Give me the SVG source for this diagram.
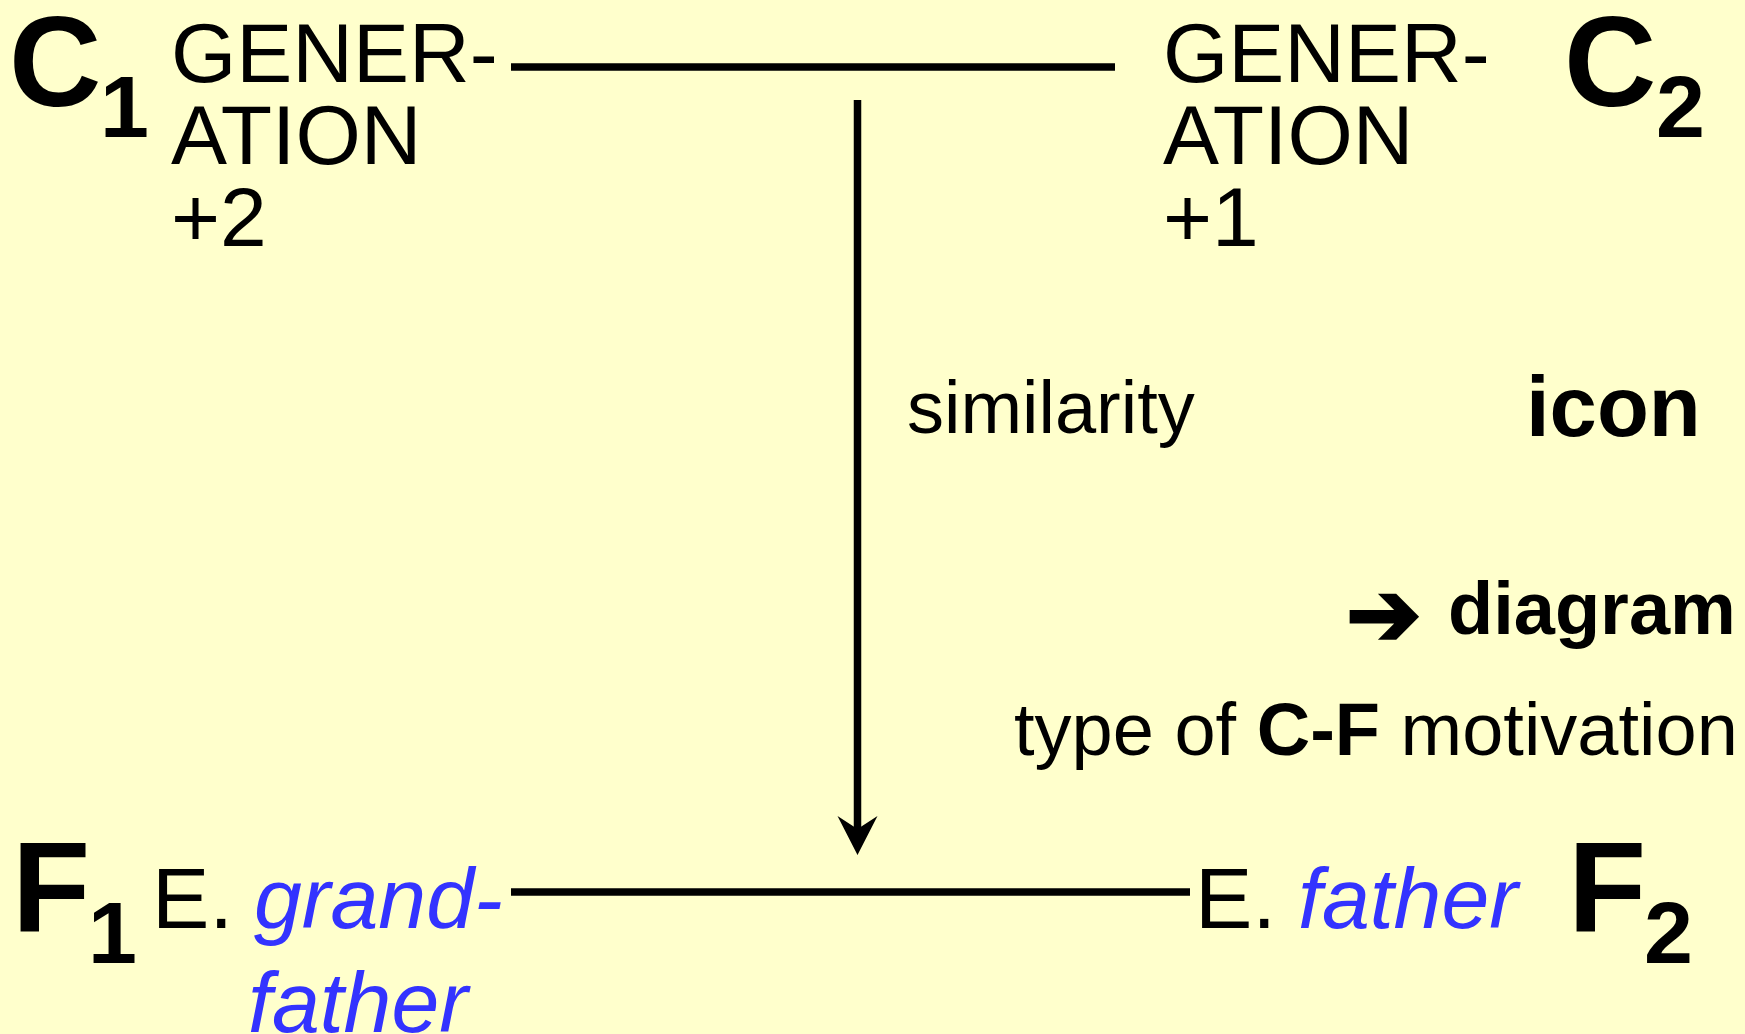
<svg xmlns="http://www.w3.org/2000/svg" width="1745" height="1034" viewBox="0 0 1745 1034">
<style>
text{font-family:"Liberation Sans",Arial,sans-serif;fill:#000}
.big{font-weight:bold;font-size:128px}
.sub{font-weight:bold;font-size:88px}
.gen{font-size:84px}
.ex{font-size:86px}
.it{font-style:italic;fill:#3333ff}
.lab{font-size:74px}
.b{font-weight:bold}
.conn{stroke:#000;stroke-width:7.5;fill:none}
</style>
<rect width="1745" height="1034" fill="#ffffcc"/>
<g id="connectors">
<line class="conn" x1="511" y1="67" x2="1115" y2="67"/>
<line class="conn" x1="511" y1="892" x2="1190" y2="892" stroke-width="8"/>
<line class="conn" x1="857.5" y1="100" x2="857.5" y2="835"/>
<path d="M857.5 855 L837.5 816 L857.5 829 L877.5 816 Z" fill="#000"/>
</g>
<g id="node-C1">
<text class="big" x="9" y="106">C</text>
<text class="sub" x="100" y="137">1</text>
<text class="gen" x="171" y="82">GENER-</text>
<text class="gen" x="171" y="164">ATION</text>
<text class="gen" x="171" y="246">+2</text>
</g>
<g id="node-C2">
<text class="gen" x="1163" y="82">GENER-</text>
<text class="gen" x="1163" y="164">ATION</text>
<text class="gen" x="1163" y="246">+1</text>
<text class="big" x="1564" y="106">C</text>
<text class="sub" x="1656" y="137">2</text>
</g>
<g id="node-F1">
<text class="big" x="12" y="931">F</text>
<text class="sub" x="88" y="963">1</text>
<text class="ex" x="152" y="928">E.</text>
<text class="ex it" x="254" y="928">grand-</text>
<text class="ex it" x="248" y="1032">father</text>
</g>
<g id="node-F2">
<text class="ex" x="1195" y="928">E.</text>
<text class="ex it" x="1298" y="928">father</text>
<text class="big" x="1568" y="931">F</text>
<text class="sub" x="1644" y="963">2</text>
</g>
<g id="label-similarity">
<text class="lab" x="907" y="433">similarity</text>
</g>
<g id="label-icon">
<text class="b" font-size="85" x="1526" y="436">icon</text>
</g>
<g id="label-diagram">
<text x="1346" y="645" font-size="90" stroke="#000" stroke-width="3" style="font-family:'DejaVu Sans',sans-serif">➔</text>
<text class="b" font-size="74" x="1448" y="634">diagram</text>
</g>
<g id="label-type">
<text class="lab" x="1014" y="755">type of <tspan class="b">C-F</tspan> motivation</text>
</g>
</svg>
